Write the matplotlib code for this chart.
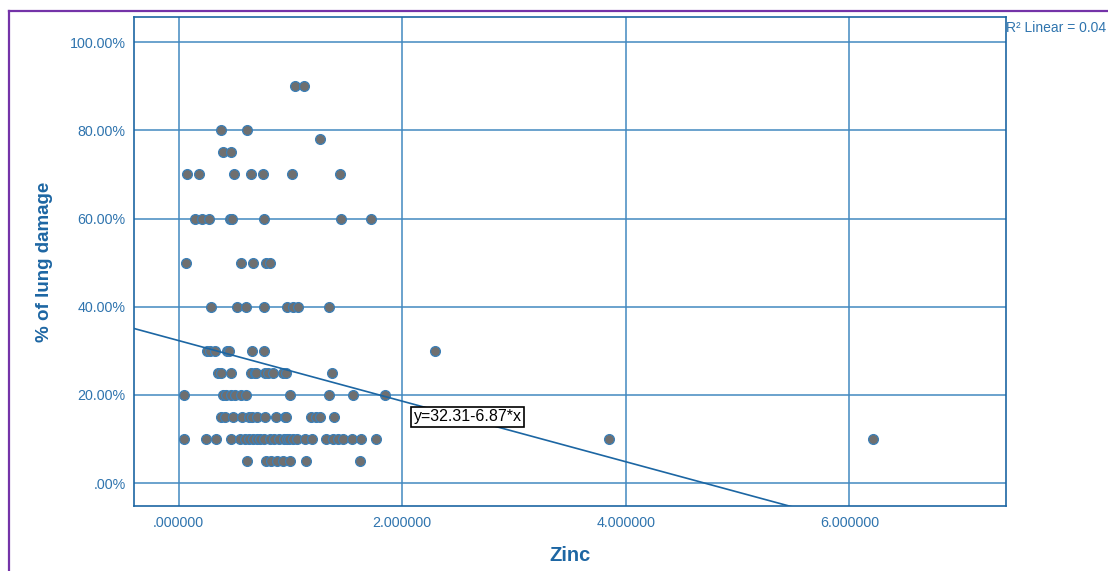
import matplotlib
matplotlib.use("Agg")
import matplotlib.pyplot as plt
from matplotlib.lines import Line2D
import numpy as np

# Zinc readings grouped by recorded % of lung damage
zinc_90 = [1.044, 1.124]
zinc_80 = [0.376, 0.611]
zinc_78 = [1.267]
zinc_75 = [0.396, 0.465]
zinc_70 = [0.074, 0.179, 0.495, 0.644, 0.754, 1.017, 1.446]
zinc_60 = [0.143, 0.208, 0.271, 0.456, 0.477, 0.760, 1.449, 1.717]
zinc_50 = [0.063, 0.555, 0.665, 0.784, 0.814]
zinc_40 = [0.286, 0.525, 0.606, 0.763, 0.969, 1.022, 1.067, 1.342]
zinc_30 = [0.253, 0.277, 0.322, 0.432, 0.450, 0.653, 0.760, 2.290]
zinc_25 = [0.352, 0.382, 0.471, 0.650, 0.680, 0.695, 0.769, 0.799, 0.843,
           0.933, 0.957, 1.369]
zinc_20 = [0.045, 0.396, 0.427, 0.471, 0.501, 0.561, 0.599, 0.993, 1.342,
           1.559, 1.843]
zinc_15 = [0.382, 0.411, 0.486, 0.570, 0.629, 0.659, 0.700, 0.769, 0.868,
           0.948, 0.963, 1.187, 1.232, 1.261, 1.386]
zinc_10 = [0.045, 0.248, 0.331, 0.465, 0.552, 0.590, 0.629, 0.665, 0.700,
           0.725, 0.763, 0.814, 0.850, 0.897, 0.939, 0.969, 0.987, 1.022,
           1.058, 1.127, 1.196, 1.321, 1.380, 1.425, 1.470, 1.554, 1.634,
           1.768, 3.846, 6.207]
zinc_5 = [0.611, 0.778, 0.829, 0.879, 0.933, 0.993, 1.142, 1.625]

groups = {90: zinc_90, 80: zinc_80, 78: zinc_78, 75: zinc_75, 70: zinc_70,
          60: zinc_60, 50: zinc_50, 40: zinc_40, 30: zinc_30, 25: zinc_25,
          20: zinc_20, 15: zinc_15, 10: zinc_10, 5: zinc_5}

# Linear fit coefficients and summary
intercept = 32.31
slope = -6.87
r_squared = 0.04

x_ticks = [0, 2, 4, 6]
x_tick_labels = [".000000", "2.000000", "4.000000", "6.000000"]
y_ticks = [0, 20, 40, 60, 80, 100]
y_tick_labels = [".00%", "20.00%", "40.00%", "60.00%", "80.00%", "100.00%"]

zinc = np.concatenate([groups[k] for k in groups])
damage = np.concatenate([[k] * len(groups[k]) for k in groups])

plt.rcParams["font.family"] = ["Liberation Sans", "DejaVu Sans"]

frame_blue = "#1c66a3"
grid_blue = "#4289c0"
text_blue = "#2f74ae"

fig = plt.figure(figsize=(11.08, 5.71), dpi=100)
ax = fig.add_axes([134 / 1108, 1 - 506 / 571, 872 / 1108, 489 / 571])

xmin, xmax = -0.40, 7.40
ax.set_xlim(xmin, xmax)
ax.set_ylim(-5.2, 105.7)

ax.set_xticks(x_ticks)
ax.set_xticklabels(x_tick_labels)
ax.set_yticks(y_ticks)
ax.set_yticklabels(y_tick_labels)
ax.tick_params(length=0, labelsize=10.3, labelcolor=text_blue, pad=6)
ax.tick_params(axis="x", pad=7)

ax.grid(True, color=grid_blue, linewidth=1.1)
ax.set_axisbelow(True)
for s in ax.spines.values():
    s.set_color(frame_blue)
    s.set_linewidth(1.2)

ax.scatter(zinc, damage, s=50, marker="o", facecolor="#6f6f6f",
           edgecolor="#3a7fb8", linewidth=0.9, zorder=3)

# fitted line y = intercept + slope * x
xs = np.array([xmin, xmax])
ax.plot(xs, intercept + slope * xs, color=frame_blue, linewidth=1.2,
        zorder=4, clip_on=True)

ax.text(2.10, 15.0, f"y={intercept:.2f}{slope:.2f}*x".replace("+-", "-"),
        fontsize=11.5, color="black", ha="left", va="center", zorder=5,
        bbox=dict(boxstyle="square,pad=0.16", facecolor="white",
                  edgecolor="black", linewidth=1.2))

ax.set_xlabel("Zinc", fontsize=14.5, fontweight="bold", color="#1d66a3",
              labelpad=12)
ax.set_ylabel("% of lung damage", fontsize=13.5, fontweight="bold",
              color="#1d66a3", labelpad=12)

fig.text(1006 / 1108, 1 - 28 / 571, f"R\u00b2 Linear = {r_squared:.2f}",
         fontsize=10, color=text_blue, ha="left", va="center")

# outer border (top and left edges)
purple = "#7433a8"
fig.add_artist(Line2D([8.5 / 1108, 1.0], [1 - 11 / 571, 1 - 11 / 571],
                      transform=fig.transFigure, color=purple, linewidth=1.6))
fig.add_artist(Line2D([8.5 / 1108, 8.5 / 1108], [0.0, 1 - 11 / 571],
                      transform=fig.transFigure, color=purple, linewidth=1.6))

fig.savefig("out.png", dpi=100, facecolor="white")
